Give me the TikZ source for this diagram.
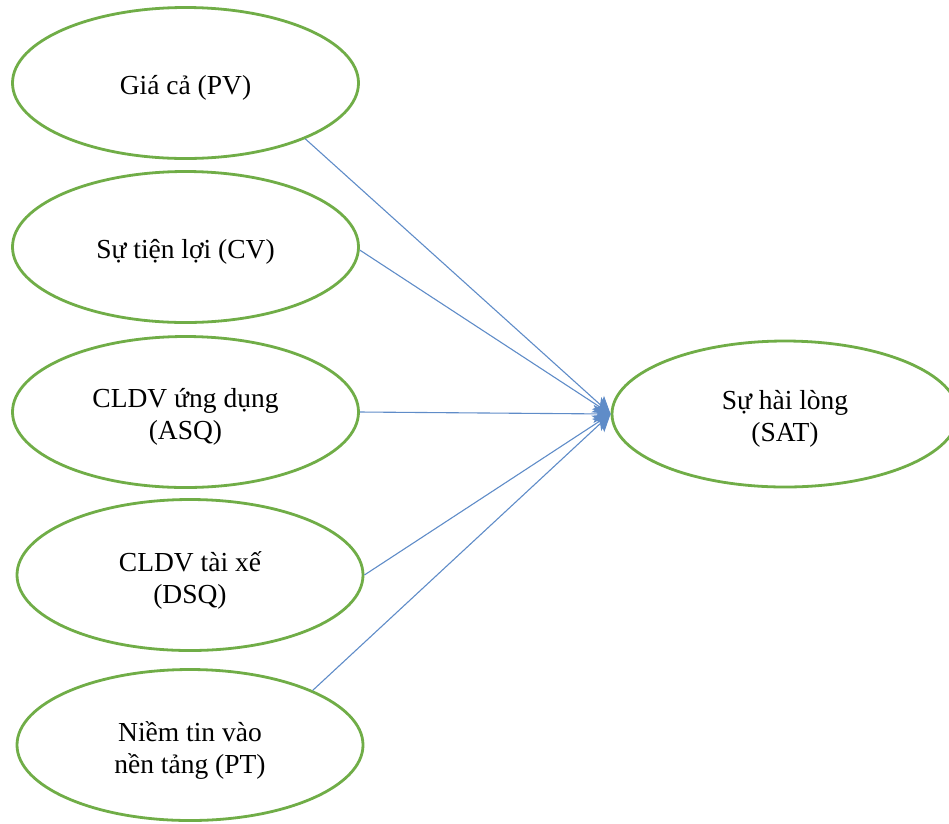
\documentclass[tikz,border=0pt]{standalone}
\usepackage{fontspec}
\setmainfont{Liberation Serif}
\usetikzlibrary{shapes.geometric,arrows.meta}
\definecolor{ringgreen}{HTML}{70AD47}
\definecolor{linkblue}{HTML}{5F8CC8}
\begin{document}
\begin{tikzpicture}[x=1pt,y=-1pt,
  factor/.style={ellipse,draw=ringgreen,line width=2.8pt,fill=white,
    minimum width=346pt,minimum height=151pt,inner sep=0pt},
  caption/.style={align=center,inner sep=0pt,
    font=\fontsize{27.5}{32}\selectfont},
  link/.style={draw=linkblue,line width=1.1pt,
    -{Stealth[length=17pt,width=18pt,inset=4pt]}}]
\useasboundingbox (0,0) rectangle (949,823);
% independent factors
\node[factor] (pv)  at (185.5,83)  {};
\node[factor] (cv)  at (185.5,247) {};
\node[factor] (asq) at (185.5,412) {};
\node[factor] (dsq) at (190,575)   {};
\node[factor] (pt)  at (190,745)   {};
% dependent factor
\node[factor,minimum height=146pt] (sat) at (785,414) {};
% captions, sitting a little below each centre
\node[caption] (pv-t)  at ([yshift=-5pt]pv.center)  {Giá cả (PV)};
\node[caption] (cv-t)  at ([yshift=-5pt]cv.center)  {Sự tiện lợi (CV)};
\node[caption] (asq-t) at ([yshift=-5pt]asq.center) {CLDV ứng dụng\\(ASQ)};
\node[caption] (dsq-t) at ([yshift=-5pt]dsq.center) {CLDV tài xế\\(DSQ)};
\node[caption] (pt-t)  at ([yshift=-5pt]pt.center)  {Niềm tin vào\\nền tảng (PT)};
\node[caption] (sat-t) at ([yshift=-5pt]sat.center) {Sự hài lòng\\(SAT)};
% paths into satisfaction
\draw[link] (pv.-25)  -- (sat.west);
\draw[link] (cv.-1)   -- (sat.west);
\draw[link] (asq.east) -- (sat.west);
\draw[link] (dsq.east) -- (sat.west);
\draw[link] (pt.24)   -- (sat.west);
\end{tikzpicture}
\end{document}
